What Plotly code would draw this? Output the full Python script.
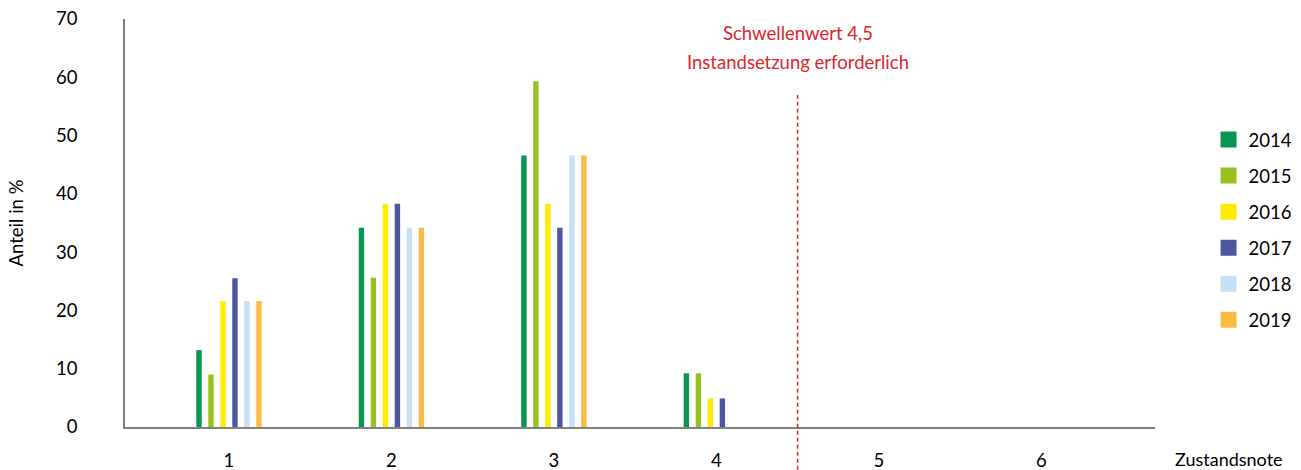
import plotly.graph_objects as go

categories = [1, 2, 3, 4, 5, 6]
years = ["2014", "2015", "2016", "2017", "2018", "2019"]
v2014 = [13.2, 34.2, 46.6, 9.2, 0, 0]
v2015 = [9.0, 25.6, 59.3, 9.2, 0, 0]
v2016 = [21.6, 38.3, 38.3, 4.9, 0, 0]
v2017 = [25.5, 38.3, 34.2, 4.9, 0, 0]
v2018 = [21.6, 34.2, 46.6, 0, 0, 0]
v2019 = [21.6, 34.2, 46.6, 0, 0, 0]
series = [v2014, v2015, v2016, v2017, v2018, v2019]
colors = ["#0a9550", "#97c11f", "#ffeb00", "#4f56a0", "#c6e0f5", "#fbbc45"]
y_ticks = [0, 10, 20, 30, 40, 50, 60, 70]
threshold = 4.5
threshold_lines = ["Schwellenwert 4,5", "Instandsetzung erforderlich"]

FONT = "Lato, 'Open Sans', sans-serif"
RED = "#dc252c"
FS = 18.5

fig = go.Figure()
for name, vals, col in zip(years, series, colors):
    fig.add_trace(go.Bar(x=categories, y=vals, name=name, marker_color=col,
                         marker_line_width=0, showlegend=False))
    fig.add_trace(go.Scatter(x=[None], y=[None], mode="markers", name=name,
                             marker=dict(symbol="square", size=18, color=col),
                             legendgroup=name, showlegend=True))

fig.add_shape(type="line", xref="x", yref="paper", x0=threshold, x1=threshold,
              y0=-0.105, y1=0.814, line=dict(color=RED, width=1.5, dash="4px,3px"))
for i, t in enumerate(threshold_lines):
    fig.add_annotation(x=threshold, xref="x", y=0.966 - 0.071 * i, yref="paper",
                       yanchor="middle", text=t, showarrow=False,
                       font=dict(color=RED, size=FS, family=FONT))
fig.add_annotation(x=1.0, xref="paper", xanchor="left", xshift=18, y=-0.078, yref="paper",
                   yanchor="middle", text="Zustandsnote", showarrow=False,
                   font=dict(color="#000", size=18, family=FONT))

fig.update_layout(
    width=1301, height=470,
    margin=dict(l=125, r=146, t=19, b=43, autoexpand=False),
    plot_bgcolor="white", paper_bgcolor="white",
    barmode="group", bargap=0.557, bargroupgap=0.55,
    font=dict(family=FONT, size=FS, color="#000"),
    showlegend=True,
    legend=dict(x=1.052, xanchor="left", y=0.75, yanchor="top",
                traceorder="grouped", tracegroupgap=9, itemsizing="trace",
                entrywidth=70, font=dict(size=FS, family=FONT)),
    xaxis=dict(range=[0.36, 6.7], tickvals=categories, showgrid=False,
               showline=True, linecolor="#808080", linewidth=1.5,
               ticks="", ticklabelstandoff=16, zeroline=False, automargin=False),
    yaxis=dict(range=[0, 70], tickvals=y_ticks, showgrid=False,
               showline=True, linecolor="#808080", linewidth=1.5,
               ticks="", ticklabelstandoff=42, zeroline=False, automargin=False,
               title=dict(text="Anteil in %", standoff=28, font=dict(size=FS))),
)

fig.write_html("out.html", config={"displayModeBar": False},
               post_script="document.body.style.margin='0';document.body.style.overflow='hidden';")
